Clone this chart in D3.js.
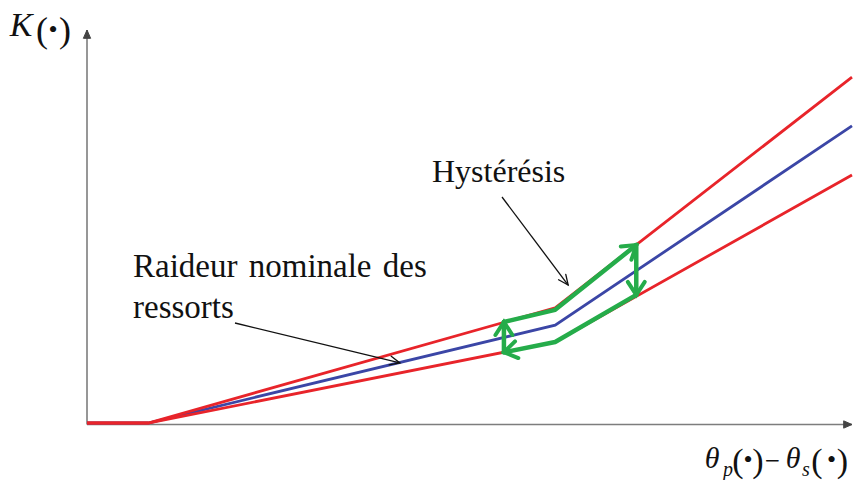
<!DOCTYPE html>
<html>
<head>
<meta charset="utf-8">
<script src="https://cdn.jsdelivr.net/npm/d3@7"></script>
<style>
  html, body { margin: 0; padding: 0; background: #ffffff; }
  svg { display: block; }
</style>
</head>
<body>
<svg id="chart" width="855" height="480"></svg>
<script>
// Break points of the piecewise-linear stiffness laws (relative deflection)
const deflection       = [0, 8, 61.2, 100];
const stiffnessUpper   = [0, 0, 29.3, 88.0];
const stiffnessNominal = [0, 0, 24.9, 75.6];
const stiffnessLower   = [0, 0, 20.6, 63.1];

// Hysteresis loop, drawn as four arrowed legs
const loopReturnX = [71.8, 61.2, 54.5];
const loopReturnY = [32.6, 20.6, 18.0];
const loopRiseX   = [54.5, 54.5];
const loopRiseY   = [18.0, 25.7];
const loopLoadX   = [54.5, 61.2, 71.8];
const loopLoadY   = [25.7, 28.8, 45.3];
const loopDropX   = [71.8, 71.8];
const loopDropY   = [45.3, 32.6];

// Annotation targets (data coordinates) and their texts
const noteHysteresis = { text: ["Hystérésis"], tx: 62.9, ty: 35.1 };
const noteNominal    = { text: ["Raideur nominale des", "ressorts"], tx: 40.9, ty: 15.3 };

const SERIF = "Liberation Serif";
const RED = "#e8242a", BLUE = "#3b46a6", GREEN = "#25ac4a", AXIS = "#7d7d7d", INK = "#111111";

const svg = d3.select("#chart");
const x = d3.scaleLinear().domain([0, 100]).range([87, 852]);
const y = d3.scaleLinear().domain([0, 100]).range([423, 30]);

const defs = svg.append("defs");
function arrowMarker(id, color, len, half, width, filled) {
  defs.append("marker")
    .attr("id", id)
    .attr("markerUnits", "userSpaceOnUse")
    .attr("viewBox", `${-len - 2} ${-half - 2} ${len + 4} ${2 * half + 4}`)
    .attr("markerWidth", len + 4).attr("markerHeight", 2 * half + 4)
    .attr("refX", 0).attr("refY", 0)
    .attr("orient", "auto")
    .style("overflow", "visible")
    .append("path")
    .attr("d", filled ? `M${-len},${-half}L0,0L${-len},${half}Z` : `M${-len},${-half}L0,0L${-len},${half}`)
    .attr("fill", filled ? color : "none")
    .attr("stroke", color)
    .attr("stroke-width", width)
    .attr("stroke-linejoin", "miter")
    .attr("stroke-linecap", "round");
}
arrowMarker("axisHead", "#444", 8, 3.5, 1, true);
arrowMarker("greenHead", GREEN, 13, 8.5, 4, false);
arrowMarker("noteHead", INK, 10, 4.5, 1.3, false);

// Axes (no graduations, arrowed ends)
const xr = x.range(), yr = y.range();
svg.append("line")
  .attr("x1", xr[0]).attr("y1", yr[0] + 1.5)
  .attr("x2", xr[1]).attr("y2", yr[0] + 1.5)
  .attr("stroke", AXIS).attr("stroke-width", 1.6)
  .attr("marker-end", "url(#axisHead)");
svg.append("line")
  .attr("x1", xr[0]).attr("y1", yr[0] + 1.5)
  .attr("x2", xr[0]).attr("y2", yr[1])
  .attr("stroke", AXIS).attr("stroke-width", 1.6)
  .attr("marker-end", "url(#axisHead)");

const line = d3.line().x(d => x(d[0])).y(d => y(d[1]));
const zip = (xs, ys) => xs.map((v, i) => [v, ys[i]]);

// Stiffness laws
svg.append("path").datum(zip(deflection, stiffnessNominal))
  .attr("d", line).attr("fill", "none").attr("stroke", BLUE).attr("stroke-width", 2.8);
[stiffnessUpper, stiffnessLower].forEach(s => {
  svg.append("path").datum(zip(deflection, s))
    .attr("d", line).attr("fill", "none").attr("stroke", RED).attr("stroke-width", 2.8);
});

// Hysteresis loop
[[loopReturnX, loopReturnY], [loopRiseX, loopRiseY], [loopLoadX, loopLoadY], [loopDropX, loopDropY]]
  .forEach(([xs, ys]) => {
    svg.append("path").datum(zip(xs, ys))
      .attr("d", line).attr("fill", "none")
      .attr("stroke", GREEN).attr("stroke-width", 4.5)
      .attr("stroke-linejoin", "round").attr("stroke-linecap", "round")
      .attr("marker-end", "url(#greenHead)");
  });

// Annotations
function note(n, textX, textY, size, wordGap, lineH, fromX, fromY) {
  const t = svg.append("text").attr("x", textX).attr("y", textY)
    .attr("font-family", SERIF).attr("font-size", size)
    .attr("word-spacing", wordGap).attr("fill", INK);
  n.text.forEach((s, i) => t.append("tspan").attr("x", textX).attr("dy", i ? lineH : 0).text(s));
  svg.append("line")
    .attr("x1", fromX).attr("y1", fromY)
    .attr("x2", x(n.tx)).attr("y2", y(n.ty))
    .attr("stroke", INK).attr("stroke-width", 1.3)
    .attr("marker-end", "url(#noteHead)");
}
note(noteHysteresis, 432, 182, 32, 0, 0, 502, 197);
note(noteNominal, 133, 277, 33, 3, 41, 235, 323);

// Axis titles: each glyph centred on its own position
function glyphs(list) {
  list.forEach(g => {
    svg.append("text")
      .attr("x", g.cx).attr("y", g.base)
      .attr("text-anchor", "middle")
      .attr("font-family", g.family || SERIF)
      .attr("font-size", g.size)
      .attr("font-style", g.italic ? "italic" : "normal")
      .attr("fill", INK)
      .text(g.t);
  });
}
glyphs([
  { t: "K", cx: 21, base: 36, size: 34, italic: true },
  { t: "(", cx: 42, base: 42, size: 36 },
  { t: "•", cx: 53, base: 38, size: 26 },
  { t: ")", cx: 65, base: 42, size: 36 }
]);
glyphs([
  { t: "θ", cx: 712, base: 468, size: 30, italic: true },
  { t: "p", cx: 728, base: 476, size: 20, italic: true },
  { t: "(", cx: 738, base: 472, size: 34 },
  { t: "•", cx: 748, base: 468, size: 26 },
  { t: ")", cx: 758, base: 472, size: 34 },
  { t: "−", cx: 772.5, base: 467, size: 20, family: "DejaVu Serif" },
  { t: "θ", cx: 793, base: 468, size: 30, italic: true },
  { t: "s", cx: 806, base: 476, size: 20, italic: true },
  { t: "(", cx: 817, base: 472, size: 34 },
  { t: "•", cx: 831.5, base: 468, size: 26 },
  { t: ")", cx: 842.5, base: 472, size: 34 }
]);
</script>
</body>
</html>
